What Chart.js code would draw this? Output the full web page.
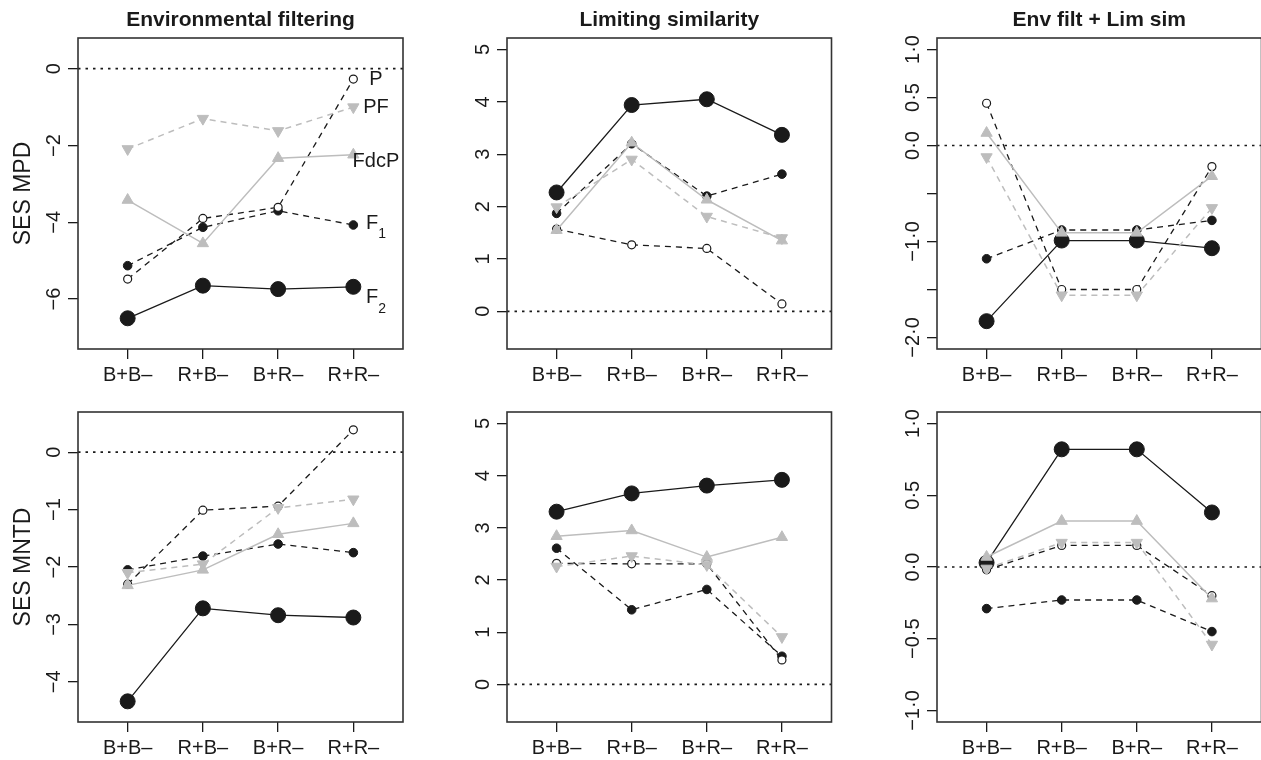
<!DOCTYPE html>
<html>
<head>
<meta charset="utf-8">
<script src="https://cdn.jsdelivr.net/npm/chart.js@4"></script>
<style>
  html, body { margin: 0; padding: 0; background: #fff; overflow: hidden; }
  body { width: 1261px; height: 760px; position: relative; }
  canvas { position: absolute; }
</style>
</head>
<body>
<canvas id="p1"></canvas>
<canvas id="p2"></canvas>
<canvas id="p3"></canvas>
<canvas id="p4"></canvas>
<canvas id="p5"></canvas>
<canvas id="p6"></canvas>
<script>
// categories on the x axis
const categories = ["B+B–", "R+B–", "B+R–", "R+R–"];
// series order in every panel: P, PF, FdcP, F1, F2
const seriesNames = ["P", "PF", "FdcP", "F1", "F2"];

// SES MPD
const mpdEnvFilt = [
    [-5.48, -3.90, -3.61, -0.27],
    [-2.09, -1.30, -1.62, -1.00],
    [-3.42, -4.55, -2.33, -2.24],
    [-5.13, -4.13, -3.70, -4.07],
    [-6.50, -5.65, -5.74, -5.68]
];
const mpdLimSim = [
    [1.57, 1.27, 1.20, 0.14],
    [1.99, 2.90, 1.81, 1.40],
    [1.55, 3.22, 2.13, 1.35],
    [1.87, 3.20, 2.20, 2.62],
    [2.27, 3.94, 4.05, 3.37]
];
const mpdBoth = [
    [0.44, -1.50, -1.50, -0.22],
    [-0.12, -1.56, -1.56, -0.65],
    [0.13, -0.91, -0.91, -0.32],
    [-1.18, -0.88, -0.88, -0.78],
    [-1.83, -0.99, -0.99, -1.07]
];
// SES MNTD
const mntdEnvFilt = [
    [-2.30, -1.01, -0.94, 0.39],
    [-2.10, -1.95, -0.97, -0.82],
    [-2.32, -2.05, -1.43, -1.24],
    [-2.05, -1.81, -1.60, -1.75],
    [-4.34, -2.72, -2.84, -2.88]
];
const mntdLimSim = [
    [2.32, 2.31, 2.31, 0.47],
    [2.26, 2.46, 2.29, 0.91],
    [2.84, 2.95, 2.44, 2.82],
    [2.61, 1.43, 1.82, 0.54],
    [3.31, 3.66, 3.81, 3.92]
];
const mntdBoth = [
    [-0.02, 0.15, 0.15, -0.20],
    [-0.01, 0.17, 0.17, -0.54],
    [0.07, 0.32, 0.32, -0.22],
    [-0.29, -0.23, -0.23, -0.45],
    [0.03, 0.82, 0.82, 0.38]
];

// y ticks and their labels
const ticksEnvMpd = [-6, -4, -2, 0];
const labelsEnvMpd = ["−6", "−4", "−2", "0"];
const ticksLim = [0, 1, 2, 3, 4, 5];
const labelsLim = ["0", "1", "2", "3", "4", "5"];
const ticksBothMpd = [-2, -1.5, -1, -0.5, 0, 0.5, 1];
const labelsBothMpd = ["−2·0", "", "−1·0", "", "0·0", "0·5", "1·0"];
const ticksEnvMntd = [-4, -3, -2, -1, 0];
const labelsEnvMntd = ["−4", "−3", "−2", "−1", "0"];
const ticksBothMntd = [-1, -0.5, 0, 0.5, 1];
const labelsBothMntd = ["−1·0", "−0·5", "0·0", "0·5", "1·0"];

// series names written inside the first panel
const noteText = ["P", "PF", "FdcP", "F", "F"];
const noteSub = ["", "", "", "1", "2"];
const noteY = [-0.29, -1.02, -2.42, -4.02, -5.97];
const noteX = 4.3;

const FONT = "'Liberation Sans', Arial, Helvetica, sans-serif";
const INK = "#1a1a1a";
const GREY = "#bdbdbd";

Chart.defaults.font.family = FONT;
Chart.defaults.color = INK;

const seriesStyle = {
    P:    { line: INK,  lw: 1.3, dash: [6, 5], point: "circle",   r: 4,   rot: 0,   fill: "#fff", edge: INK,  pw: 1.2, order: 2 },
    PF:   { line: GREY, lw: 1.5, dash: [6, 5], point: "triangle", r: 6.5, rot: 180, fill: GREY,   edge: GREY, pw: 1,   order: 1 },
    FdcP: { line: GREY, lw: 1.5, dash: [],     point: "triangle", r: 6.5, rot: 0,   fill: GREY,   edge: GREY, pw: 1,   order: 0 },
    F1:   { line: INK,  lw: 1.3, dash: [6, 5], point: "circle",   r: 4.3, rot: 0,   fill: INK,    edge: INK,  pw: 1,   order: 3 },
    F2:   { line: INK,  lw: 1.3, dash: [],     point: "circle",   r: 7.5, rot: 0,   fill: INK,    edge: INK,  pw: 1,   order: 4 }
};

function makeDatasets(vals) {
    return seriesNames.map(function (name, i) {
        const s = seriesStyle[name];
        return {
            label: name,
            data: vals[i].map(function (v, j) { return { x: j + 1, y: v }; }),
            borderColor: s.line,
            borderWidth: s.lw,
            borderDash: s.dash,
            pointStyle: s.point,
            pointRadius: s.r,
            pointRotation: s.rot,
            pointBackgroundColor: s.fill,
            pointBorderColor: s.edge,
            pointBorderWidth: s.pw,
            tension: 0,
            fill: false,
            order: s.order
        };
    });
}

// box, zero line, rotated y labels, panel titles and notes
const decor = {
    id: "decor",
    beforeDatasetsDraw(chart) {
        const { ctx, chartArea: a } = chart;
        const y0 = chart.scales.y.getPixelForValue(0);
        ctx.save();
        ctx.strokeStyle = INK;
        ctx.lineWidth = 1.7;
        ctx.setLineDash([2.5, 5]);
        ctx.beginPath();
        ctx.moveTo(a.left, y0);
        ctx.lineTo(a.right, y0);
        ctx.stroke();
        ctx.restore();
    },
    afterDraw(chart, args, o) {
        const { ctx, chartArea: a } = chart;
        const ys = chart.scales.y, xs = chart.scales.x;
        ctx.save();
        ctx.strokeStyle = "#333";
        ctx.lineWidth = 1.6;
        ctx.strokeRect(a.left, a.top, a.right - a.left, a.bottom - a.top);

        ctx.fillStyle = INK;
        ctx.font = "20px " + FONT;
        ctx.textAlign = "center";
        ctx.textBaseline = "middle";
        ys.ticks.forEach(function (t, i) {
            const lab = o.yLabels[i];
            if (!lab) return;
            ctx.save();
            ctx.translate(a.left - 24, ys.getPixelForValue(t.value));
            ctx.rotate(-Math.PI / 2);
            ctx.fillText(lab, 0, 0);
            ctx.restore();
        });

        if (o.title) {
            ctx.font = "bold 21px " + FONT;
            ctx.fillText(o.title, (a.left + a.right) / 2, a.top - 18);
        }

        if (o.notes) {
            noteText.forEach(function (txt, i) {
                const cx = xs.getPixelForValue(noteX);
                const cy = ys.getPixelForValue(noteY[i]);
                ctx.font = "20px " + FONT;
                const w1 = ctx.measureText(txt).width;
                ctx.font = "14px " + FONT;
                const w2 = noteSub[i] ? ctx.measureText(noteSub[i]).width : 0;
                const x0 = cx - (w1 + w2) / 2;
                ctx.textAlign = "left";
                ctx.font = "20px " + FONT;
                ctx.fillText(txt, x0, cy);
                if (noteSub[i]) {
                    ctx.font = "14px " + FONT;
                    ctx.fillText(noteSub[i], x0 + w1, cy + 11);
                }
            });
        }
        ctx.restore();
    }
};

const panels = [
    { id: "p1", left: 0,   top: 0,   w: 420, h: 390, box: [78, 38, 403, 349], vals: mpdEnvFilt,  yMin: -7.3,  yMax: 0.8,  ticks: ticksEnvMpd,   labels: labelsEnvMpd,   yTitle: "SES MPD",  title: "Environmental filtering", notes: true },
    { id: "p2", left: 420, top: 0,   w: 420, h: 390, box: [87, 38, 413, 349], vals: mpdLimSim,   yMin: -0.72, yMax: 5.22, ticks: ticksLim,      labels: labelsLim,      yTitle: "",         title: "Limiting similarity" },
    { id: "p3", left: 840, top: 0,   w: 430, h: 390, box: [97, 38, 422, 349], vals: mpdBoth,     yMin: -2.12, yMax: 1.12, ticks: ticksBothMpd,  labels: labelsBothMpd,  yTitle: "",         title: "Env filt + Lim sim" },
    { id: "p4", left: 0,   top: 380, w: 420, h: 380, box: [78, 32, 403, 342], vals: mntdEnvFilt, yMin: -4.7,  yMax: 0.7,  ticks: ticksEnvMntd,  labels: labelsEnvMntd,  yTitle: "SES MNTD", title: "" },
    { id: "p5", left: 420, top: 380, w: 420, h: 380, box: [87, 32, 413, 342], vals: mntdLimSim,  yMin: -0.72, yMax: 5.22, ticks: ticksLim,      labels: labelsLim,      yTitle: "",         title: "" },
    { id: "p6", left: 840, top: 380, w: 430, h: 380, box: [97, 32, 422, 342], vals: mntdBoth,    yMin: -1.08, yMax: 1.08, ticks: ticksBothMntd, labels: labelsBothMntd, yTitle: "",         title: "" }
];

panels.forEach(function (p) {
    const cv = document.getElementById(p.id);
    cv.width = p.w;
    cv.height = p.h;
    cv.style.left = p.left + "px";
    cv.style.top = p.top + "px";
    cv.style.width = p.w + "px";
    cv.style.height = p.h + "px";

    new Chart(cv, {
        type: "line",
        data: { datasets: makeDatasets(p.vals) },
        options: {
            responsive: false,
            animation: false,
            devicePixelRatio: 1,
            layout: { padding: { top: p.box[1], right: p.w - p.box[2], left: 0, bottom: 0 } },
            plugins: {
                legend: { display: false },
                tooltip: { enabled: false },
                decor: { yLabels: p.labels, title: p.title, notes: !!p.notes }
            },
            scales: {
                x: {
                    type: "linear",
                    min: 0.34,
                    max: 4.66,
                    bounds: "data",
                    afterBuildTicks: function (s) {
                        s.ticks = categories.map(function (c, i) { return { value: i + 1 }; });
                    },
                    afterFit: function (s) { s.height = p.h - p.box[3]; },
                    ticks: {
                        autoSkip: false,
                        maxRotation: 0,
                        padding: 4,
                        color: INK,
                        font: { size: 20 },
                        callback: function (v, i) { return categories[i]; }
                    },
                    grid: { drawOnChartArea: false, drawTicks: true, tickLength: 10, color: INK, lineWidth: 1.3 },
                    border: { display: false }
                },
                y: {
                    type: "linear",
                    min: p.yMin,
                    max: p.yMax,
                    bounds: "data",
                    afterBuildTicks: function (s) {
                        s.ticks = p.ticks.map(function (v) { return { value: v }; });
                    },
                    afterFit: function (s) { s.width = p.box[0]; },
                    ticks: { display: false },
                    grid: { drawOnChartArea: false, drawTicks: true, tickLength: 10, color: INK, lineWidth: 1.3 },
                    border: { display: false },
                    title: {
                        display: !!p.yTitle,
                        text: p.yTitle,
                        color: INK,
                        font: { size: 23 },
                        padding: { top: 10, bottom: 0 }
                    }
                }
            }
        },
        plugins: [decor]
    });
});
</script>
</body>
</html>
